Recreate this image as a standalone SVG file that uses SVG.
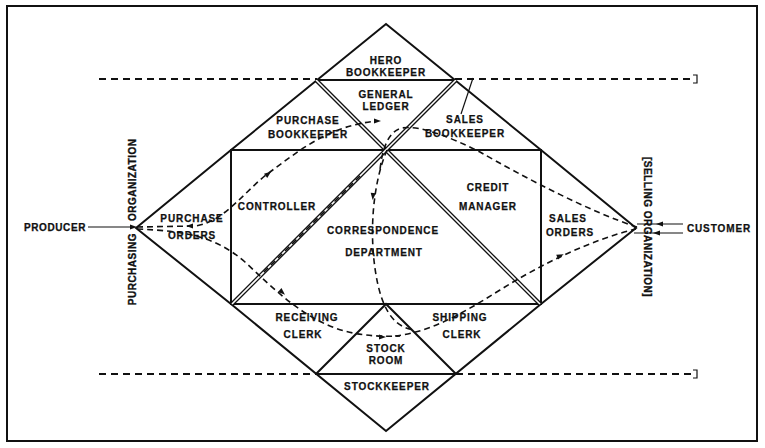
<svg xmlns="http://www.w3.org/2000/svg" width="765" height="448" viewBox="0 0 765 448">
<defs>
<style>
.s{fill:none;stroke:#111;stroke-width:2;stroke-linejoin:miter}
.d{fill:none;stroke:#111;stroke-width:1.6;stroke-dasharray:6 4}
.dl{fill:none;stroke:#111;stroke-width:2.2;stroke-dasharray:7 5}
.dbo{fill:none;stroke:#111;stroke-width:4.2}
.dbi{fill:none;stroke:#fff;stroke-width:1.6}
.th{fill:none;stroke:#111;stroke-width:1.2}
.t{font-family:"Liberation Sans",Arial,sans-serif;font-weight:bold;font-size:10px;letter-spacing:0.9px;text-anchor:middle;fill:#111;stroke:#111;stroke-width:0.25}
.v{font-family:"Liberation Sans",Arial,sans-serif;font-weight:bold;font-size:10px;letter-spacing:0.5px;fill:#111;stroke:#111;stroke-width:0.35}
</style>
<path id="ah" d="M4,0 L-3,-2.6 L-3,2.6 Z" fill="#111"/>
</defs>
<rect width="765" height="448" fill="#fff"/>
<rect x="7" y="6" width="750" height="435" class="s"/>

<g id="structure">
<polygon points="386,24 541,150 636,228 541,304 386,431 231,304 136,228 231,150" class="s"/>
<rect x="231" y="150" width="310" height="154" class="s"/>
<line x1="317" y1="80" x2="455" y2="80" class="s"/>
<line x1="316" y1="374" x2="456" y2="374" class="s"/>
<polyline points="316,374 386,304 456,374" class="s"/>
<line x1="316" y1="80" x2="540" y2="304" class="dbo"/>
<line x1="316" y1="80" x2="540" y2="304" class="dbi"/>
<line x1="456" y1="80" x2="232" y2="304" class="dbo"/>
<line x1="456" y1="80" x2="232" y2="304" class="dbi"/>
<line x1="360" y1="176" x2="263" y2="273" class="d" stroke-width="1.2"/>
<line x1="473" y1="78" x2="461" y2="114" class="th"/>
</g>

<g id="connectors">
<line x1="99" y1="79" x2="317" y2="79" class="dl"/>
<line x1="455" y1="79" x2="693" y2="79" class="dl"/>
<path d="M693,75 h4 v8 h-4" class="th" stroke-width="1.6"/>
<line x1="99" y1="374" x2="316" y2="374" class="dl"/>
<line x1="456" y1="374" x2="693" y2="374" class="dl"/>
<path d="M693,370 h4 v8 h-4" class="th" stroke-width="1.6"/>

<line x1="88" y1="227" x2="134" y2="227" class="th"/>
<use href="#ah" transform="translate(133,227)"/>
<line x1="637" y1="224" x2="683" y2="224" class="th"/>
<use href="#ah" transform="translate(660,224) rotate(180)"/>
<line x1="634" y1="233" x2="683" y2="233" class="th"/>
<use href="#ah" transform="translate(657,233) rotate(180)"/>

<path id="cA" d="M137,227 L195,226 C225,222 245,190 270,172 C300,150 330,125 378,121" class="d"/>
<use href="#ah" transform="translate(190,226) rotate(180)"/>
<use href="#ah" transform="translate(268,174) rotate(-38)"/>
<use href="#ah" transform="translate(377,121)"/>

<path id="cB" d="M137,229 C185,231 215,236 245,262 C275,290 300,315 335,328 C355,335 375,337 400,336" class="d"/>
<use href="#ah" transform="translate(282,292) rotate(42)"/>
<use href="#ah" transform="translate(382,337)"/>

<path id="cC" d="M387,150 C372,185 368,240 378,285 C385,315 397,328 415,330" class="d"/>
<use href="#ah" transform="translate(373,196) rotate(95)"/>

<path id="cD" d="M395,336 C430,332 460,315 500,290 C540,265 590,240 636,229" class="d"/>
<use href="#ah" transform="translate(560,256) rotate(-24)"/>

<path id="cE" d="M637,227 C590,212 520,175 480,152 C450,137 420,125 402,128 C388,131 382,150 380,170" class="d"/>
</g>

<g id="hero"><text class="t" x="386" y="63.6">HERO</text><text class="t" x="386" y="75.6">BOOKKEEPER</text></g>
<g id="ledger"><text class="t" x="386" y="97.6">GENERAL</text><text class="t" x="386" y="109.6">LEDGER</text></g>
<g id="purchase-bookkeeper"><text class="t" x="308" y="123.6">PURCHASE</text><text class="t" x="308" y="137.6">BOOKKEEPER</text></g>
<g id="sales-bookkeeper"><text class="t" x="465" y="122.6">SALES</text><text class="t" x="465" y="136.6">BOOKKEEPER</text></g>
<g id="controller"><text class="t" x="277" y="209.6">CONTROLLER</text></g>
<g id="purchase-orders"><text class="t" x="192" y="221.6">PURCHASE</text><text class="t" x="192" y="239">ORDERS</text></g>
<g id="correspondence"><text class="t" x="383" y="233.6">CORRESPONDENCE</text><text class="t" x="384" y="255.6">DEPARTMENT</text></g>
<g id="credit"><text class="t" x="488" y="190.6">CREDIT</text><text class="t" x="488" y="209.6">MANAGER</text></g>
<g id="sales-orders"><text class="t" x="568" y="222">SALES</text><text class="t" x="570" y="235.6">ORDERS</text></g>
<g id="receiving"><text class="t" x="307" y="320.6">RECEIVING</text><text class="t" x="303" y="337.6">CLERK</text></g>
<g id="shipping"><text class="t" x="460" y="320.6">SHIPPING</text><text class="t" x="462" y="337.6">CLERK</text></g>
<g id="stockroom"><text class="t" x="386" y="351.6">STOCK</text><text class="t" x="386" y="364">ROOM</text></g>
<g id="stockkeeper"><text class="t" x="387" y="389.6">STOCKKEEPER</text></g>
<g id="producer"><text class="t" x="55" y="230.6" style="letter-spacing:0.6px">PRODUCER</text></g>
<g id="customer"><text class="t" x="719" y="231.6">CUSTOMER</text></g>
<g id="purchasing-org"><text class="v" transform="translate(135.5,233) rotate(-90)" text-anchor="end">PURCHASING</text><text class="v" transform="translate(135.5,221) rotate(-90)" text-anchor="start">ORGANIZATION</text></g>
<g id="selling-org"><text class="v" transform="translate(648,227) rotate(90)" y="3.6" text-anchor="middle">[SELLING ORGANIZATION]</text></g>
</svg>
